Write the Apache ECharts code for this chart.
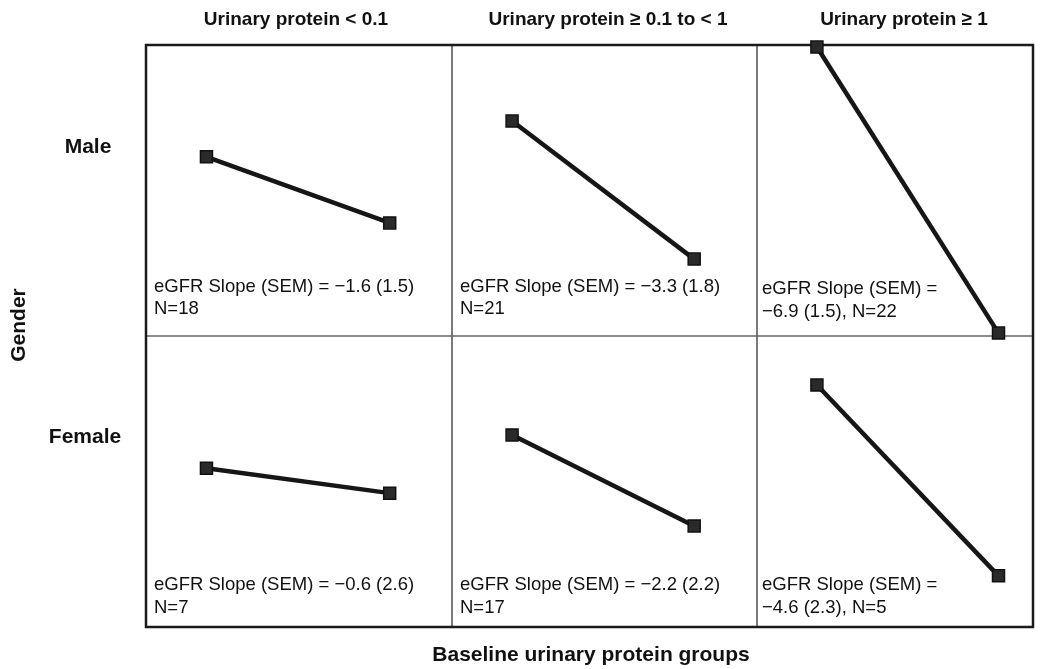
<!DOCTYPE html>
<html>
<head>
<meta charset="utf-8">
<script src="https://cdn.jsdelivr.net/npm/echarts@6/dist/echarts.min.js"></script>
<style>html,body{margin:0;padding:0;background:#fff}#c{width:1049px;height:669px}</style>
</head>
<body>
<div id="c"></div>
<script>
// ---- data ----
const columnTitles = ['Urinary protein < 0.1', 'Urinary protein \u2265 0.1 to < 1', 'Urinary protein \u2265 1'];
const rowTitles = ['Male', 'Female'];
const timePoints = [0, 1];
const maleStart   = [4.31, 5.17, 6.95];
const maleEnd     = [2.72, 1.85, 0.07];
const femaleStart = [3.82, 4.62, 5.82];
const femaleEnd   = [3.22, 2.43, 1.23];
const maleNotes   = [['eGFR Slope (SEM) = \u22121.6 (1.5)', 'N=18'], ['eGFR Slope (SEM) = \u22123.3 (1.8)', 'N=21'], ['eGFR Slope (SEM) =', '\u22126.9 (1.5), N=22']];
const femaleNotes = [['eGFR Slope (SEM) = \u22120.6 (2.6)', 'N=7'], ['eGFR Slope (SEM) = \u22122.2 (2.2)', 'N=17'], ['eGFR Slope (SEM) =', '\u22124.6 (2.3), N=5']];
const xLabel = 'Baseline urinary protein groups';
const yLabel = 'Gender';

// ---- layout ----
const FONT = '"Liberation Sans", Arial, Helvetica, sans-serif';
const colLeft = [146, 452, 757];
const colWidth = [306, 305, 276];
const colXMax = [1.34, 1.345, 1.19];
const rowTop = [45, 336];
const rowH = 291;
const titleCx = [296, 608, 904];

const grids = [], xAxes = [], yAxes = [], series = [], graphics = [];
const starts = [maleStart, femaleStart], ends = [maleEnd, femaleEnd], notes = [maleNotes, femaleNotes];
let gi = 0;
for (let r = 0; r < 2; r++) {
  for (let c = 0; c < 3; c++) {
    grids.push({left: colLeft[c], top: rowTop[r], width: colWidth[c], height: rowH, containLabel: false});
    xAxes.push({type: 'value', gridIndex: gi, min: -0.33, max: colXMax[c], show: false});
    yAxes.push({type: 'value', gridIndex: gi, min: 0, max: 7, show: false});
    series.push({
      type: 'line', xAxisIndex: gi, yAxisIndex: gi,
      data: [[timePoints[0], starts[r][c]], [timePoints[1], ends[r][c]]],
      symbol: 'rect', symbolSize: 12, clip: false,
      lineStyle: {color: '#161616', width: 4.5},
      itemStyle: {color: '#2a2a2a', borderColor: '#111', borderWidth: 1.5},
      z: 5, animation: false
    });
    const n = notes[r][c];
    const y1 = r === 0 ? (c === 2 ? 289 : 287) : 585;
    const y2 = r === 0 ? (c === 2 ? 312 : 309) : 608;
    const tx = colLeft[c] + (c === 2 ? 5 : 8);
    graphics.push({type: 'text', left: tx, top: y1 - 10, style: {text: n[0], font: '18.5px ' + FONT, fill: '#111'}});
    graphics.push({type: 'text', left: tx, top: y2 - 10, style: {text: n[1], font: '18.5px ' + FONT, fill: '#111'}});
    gi++;
  }
}
// column titles
columnTitles.forEach((t, i) => {
  graphics.push({type: 'text', x: titleCx[i], y: 20, style: {text: t, font: 'bold 19px ' + FONT, fill: '#111', textAlign: 'center', textVerticalAlign: 'middle'}});
});
// row titles
graphics.push({type: 'text', x: 88, y: 147, style: {text: rowTitles[0], font: 'bold 21px ' + FONT, fill: '#111', textAlign: 'center', textVerticalAlign: 'middle'}});
graphics.push({type: 'text', x: 85, y: 437, style: {text: rowTitles[1], font: 'bold 21px ' + FONT, fill: '#111', textAlign: 'center', textVerticalAlign: 'middle'}});
// axis titles
graphics.push({type: 'text', x: 19, y: 325, rotation: Math.PI / 2, style: {text: yLabel, font: 'bold 21px ' + FONT, fill: '#111', textAlign: 'center', textVerticalAlign: 'middle'}});
graphics.push({type: 'text', x: 591, y: 655, style: {text: xLabel, font: 'bold 21px ' + FONT, fill: '#111', textAlign: 'center', textVerticalAlign: 'middle'}});
// panel dividers
graphics.push({type: 'line', shape: {x1: 452, y1: 45, x2: 452, y2: 627}, style: {stroke: '#333', lineWidth: 1.3}, z: 1});
graphics.push({type: 'line', shape: {x1: 757, y1: 45, x2: 757, y2: 627}, style: {stroke: '#333', lineWidth: 1.3}, z: 1});
graphics.push({type: 'line', shape: {x1: 146, y1: 336, x2: 1033, y2: 336}, style: {stroke: '#666', lineWidth: 1.5}, z: 1});
// outer frame
graphics.push({type: 'rect', shape: {x: 146, y: 45, width: 887, height: 582}, style: {fill: 'none', stroke: '#1a1a1a', lineWidth: 2.5}, z: 1});

const chart = echarts.init(document.getElementById('c'), null, {renderer: 'canvas'});
chart.setOption({
  animation: false,
  backgroundColor: '#fff',
  grid: grids, xAxis: xAxes, yAxis: yAxes, series: series,
  graphic: graphics
});
</script>
</body>
</html>
